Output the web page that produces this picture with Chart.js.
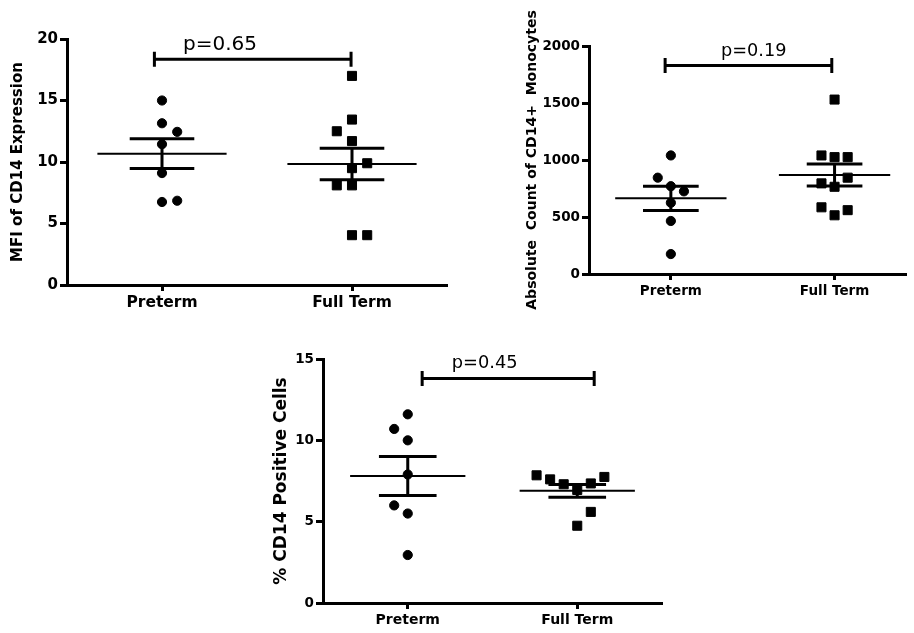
<!DOCTYPE html>
<html>
<head>
<meta charset="utf-8">
<script src="https://cdn.jsdelivr.net/npm/chart.js@4.4.1/dist/chart.umd.min.js"></script>
<style>
  html, body { margin: 0; padding: 0; background: #fff; overflow: hidden; }
  body { width: 914px; height: 633px; position: relative; }
  .panel { position: absolute; }
</style>
</head>
<body>
<div class="panel" style="left:0;top:0;width:460px;height:320px"><canvas id="mfiChart"></canvas></div>
<div class="panel" style="left:500px;top:0;width:414px;height:320px"><canvas id="countChart"></canvas></div>
<div class="panel" style="left:250px;top:330px;width:430px;height:303px"><canvas id="pctChart"></canvas></div>
<script>
const groups = ['Preterm', 'Full Term'];

// MFI of CD14 expression
const mfiPreterm = [15.0, 13.15, 12.45, 11.45, 9.1, 6.75, 6.85];
const mfiFullTerm = [17.0, 13.45, 12.5, 11.7, 9.9, 9.5, 8.1, 8.1, 4.05, 4.05];
const mfiTicks = [0, 5, 10, 15, 20];

// absolute count of CD14+ monocytes
const countPreterm = [1040, 845, 770, 725, 625, 465, 175];
const countFullTerm = [1530, 1040, 1025, 1025, 845, 795, 765, 585, 560, 515];
const countTicks = [0, 500, 1000, 1500, 2000];

// % CD14 positive cells
const pctPreterm = [11.6, 10.7, 10.0, 7.9, 6.0, 5.5, 2.95];
const pctFullTerm = [7.85, 7.6, 7.3, 6.95, 7.35, 7.75, 5.6, 4.75];
const pctTicks = [0, 5, 10, 15];

// horizontal spread of overlapping points (in marker slots)
const mfiPretermSlots = [0, 0, 1, 0, 0, 0, 1];
const mfiFullTermSlots = [0, 0, -1, 0, 1, 0, -1, 0, 0, 1];
const countPretermSlots = [0, -1, 0, 1, 0, 0, 0];
const countFullTermSlots = [0, -1, 0, 1, 1, -1, 0, -1, 1, 0];
const pctPretermSlots = [0, -1, 0, 0, -1, 0, 0];
const pctFullTermSlots = [-3, -2, -1, 0, 1, 2, 1, 0];

const pLabels = ['p=0.65', 'p=0.19', 'p=0.45'];
const bracketLevels = [18.35, 1830, 13.8];

const FONT = "'DejaVu Sans', Verdana, sans-serif";
const SLOT = 0.08;

function meanSem(v) {
  const n = v.length;
  const m = v.reduce((a, b) => a + b, 0) / n;
  const sd = Math.sqrt(v.reduce((a, b) => a + (b - m) ** 2, 0) / (n - 1));
  return [m, sd / Math.sqrt(n)];
}

function points(values, slots, center) {
  return values.map((v, i) => ({ x: center + slots[i] * SLOT, y: v }));
}

function statLines(values, center) {
  const [m, se] = meanSem(values);
  const mean = [{ x: center - 0.34, y: m }, { x: center + 0.34, y: m }];
  const sem = [
    { x: center - 0.17, y: m + se }, { x: center + 0.17, y: m + se }, { x: center, y: null },
    { x: center - 0.17, y: m - se }, { x: center + 0.17, y: m - se }, { x: center, y: null },
    { x: center, y: m - se }, { x: center, y: m + se }
  ];
  return [
    { type: 'line', data: mean, borderColor: '#000', borderWidth: 2, pointRadius: 0, spanGaps: false },
    { type: 'line', data: sem, borderColor: '#000', borderWidth: 3, pointRadius: 0, spanGaps: false }
  ];
}

const bracketPlugin = {
  id: 'bracket',
  afterDatasetsDraw(chart, args, opts) {
    const { ctx, scales: { x, y } } = chart;
    const x0 = x.getPixelForValue(opts.from);
    const x1 = x.getPixelForValue(opts.to);
    const yy = y.getPixelForValue(opts.level);
    ctx.save();
    ctx.strokeStyle = '#000';
    ctx.lineWidth = 3;
    ctx.beginPath();
    ctx.moveTo(x0, yy); ctx.lineTo(x1, yy);
    ctx.moveTo(x0, yy - 7.5); ctx.lineTo(x0, yy + 7.5);
    ctx.moveTo(x1, yy - 7.5); ctx.lineTo(x1, yy + 7.5);
    ctx.stroke();
    ctx.fillStyle = '#000';
    ctx.font = opts.fontSize + 'px ' + FONT;
    ctx.textAlign = 'center';
    ctx.textBaseline = 'alphabetic';
    ctx.fillText(opts.label, x.getPixelForValue(opts.labelAt), yy - opts.gap);
    ctx.restore();
  }
};

function makePanel(id, cfg) {
  const ctx = document.getElementById(id).getContext('2d');
  new Chart(ctx, {
    type: 'scatter',
    data: {
      datasets: [
        { data: points(cfg.pre, cfg.preSlots, 0.5), backgroundColor: '#000', borderColor: '#000',
          borderWidth: 1, pointStyle: 'circle', pointRadius: 4.6 },
        { data: points(cfg.full, cfg.fullSlots, 1.5), backgroundColor: '#000', borderColor: '#000',
          borderWidth: 1, pointStyle: 'rect', pointRadius: 6.4 },
        ...statLines(cfg.pre, 0.5),
        ...statLines(cfg.full, 1.5)
      ]
    },
    options: {
      responsive: true,
      maintainAspectRatio: false,
      animation: false,
      layout: { padding: { left: 0, top: cfg.padTop, right: cfg.padRight, bottom: 0 } },
      plugins: {
        legend: { display: false },
        tooltip: { enabled: false },
        bracket: cfg.bracket
      },
      scales: {
        x: {
          type: 'linear', min: 0, max: cfg.xMax,
          afterFit: s => { s.height = cfg.xHeight; },
          afterBuildTicks: s => { s.ticks = [{ value: 0.5 }, { value: 1.5 }]; },
          ticks: {
            callback: (v, i) => groups[i],
            color: '#000', autoSkip: false, maxRotation: 0, padding: 3,
            font: { family: FONT, size: cfg.catSize, weight: 'bold' }
          },
          grid: { drawOnChartArea: false, drawTicks: true, tickLength: 6, tickWidth: 3, tickColor: '#000' },
          border: { display: true, width: 3, color: '#000' }
        },
        y: {
          min: 0, max: cfg.ticks[cfg.ticks.length - 1],
          afterFit: s => { s.width = cfg.yWidth; },
          afterBuildTicks: s => { s.ticks = cfg.ticks.map(v => ({ value: v })); },
          ticks: {
            callback: v => String(v),
            color: '#000', padding: 2,
            font: { family: FONT, size: cfg.tickSize, weight: 'bold' }
          },
          grid: { drawOnChartArea: false, drawTicks: true, tickLength: 7, tickWidth: 3, tickColor: '#000' },
          border: { display: true, width: 3, color: '#000' },
          title: {
            display: true, text: cfg.title, color: '#000',
            font: { family: FONT, size: cfg.titleSize, weight: 'bold' },
            padding: { top: cfg.titlePad, bottom: 0 }
          }
        }
      }
    },
    plugins: [bracketPlugin]
  });
}

makePanel('mfiChart', {
  pre: mfiPreterm, full: mfiFullTerm, preSlots: mfiPretermSlots, fullSlots: mfiFullTermSlots,
  ticks: mfiTicks, xMax: 2, padTop: 39, padRight: 13, xHeight: 35, yWidth: 67,
  title: 'MFI of CD14 Expression', titleSize: 15, titlePad: 9, tickSize: 15, catSize: 15.5,
  bracket: { from: 0.46, to: 1.495, level: bracketLevels[0], label: pLabels[0], labelAt: 0.805, fontSize: 20, gap: 9 }
});

makePanel('countChart', {
  pre: countPreterm, full: countFullTerm, preSlots: countPretermSlots, fullSlots: countFullTermSlots,
  ticks: countTicks, xMax: 1.94, padTop: 46, padRight: 1, xHeight: 46, yWidth: 89,
  title: 'Absolute  Count of CD14+  Monocytes', titleSize: 14, titlePad: 23.6, tickSize: 13.5, catSize: 13.5,
  bracket: { from: 0.465, to: 1.483, level: bracketLevels[1], label: pLabels[1], labelAt: 1.006, fontSize: 17.7, gap: 9 }
});

makePanel('pctChart', {
  pre: pctPreterm, full: pctFullTerm, preSlots: pctPretermSlots, fullSlots: pctFullTermSlots,
  ticks: pctTicks, xMax: 2, padTop: 29, padRight: 18, xHeight: 30, yWidth: 73,
  title: '% CD14 Positive Cells', titleSize: 17, titlePad: 21.5, tickSize: 13.5, catSize: 14,
  bracket: { from: 0.585, to: 1.6, level: bracketLevels[2], label: pLabels[2], labelAt: 0.954, fontSize: 17.8, gap: 11 }
});
</script>
</body>
</html>
